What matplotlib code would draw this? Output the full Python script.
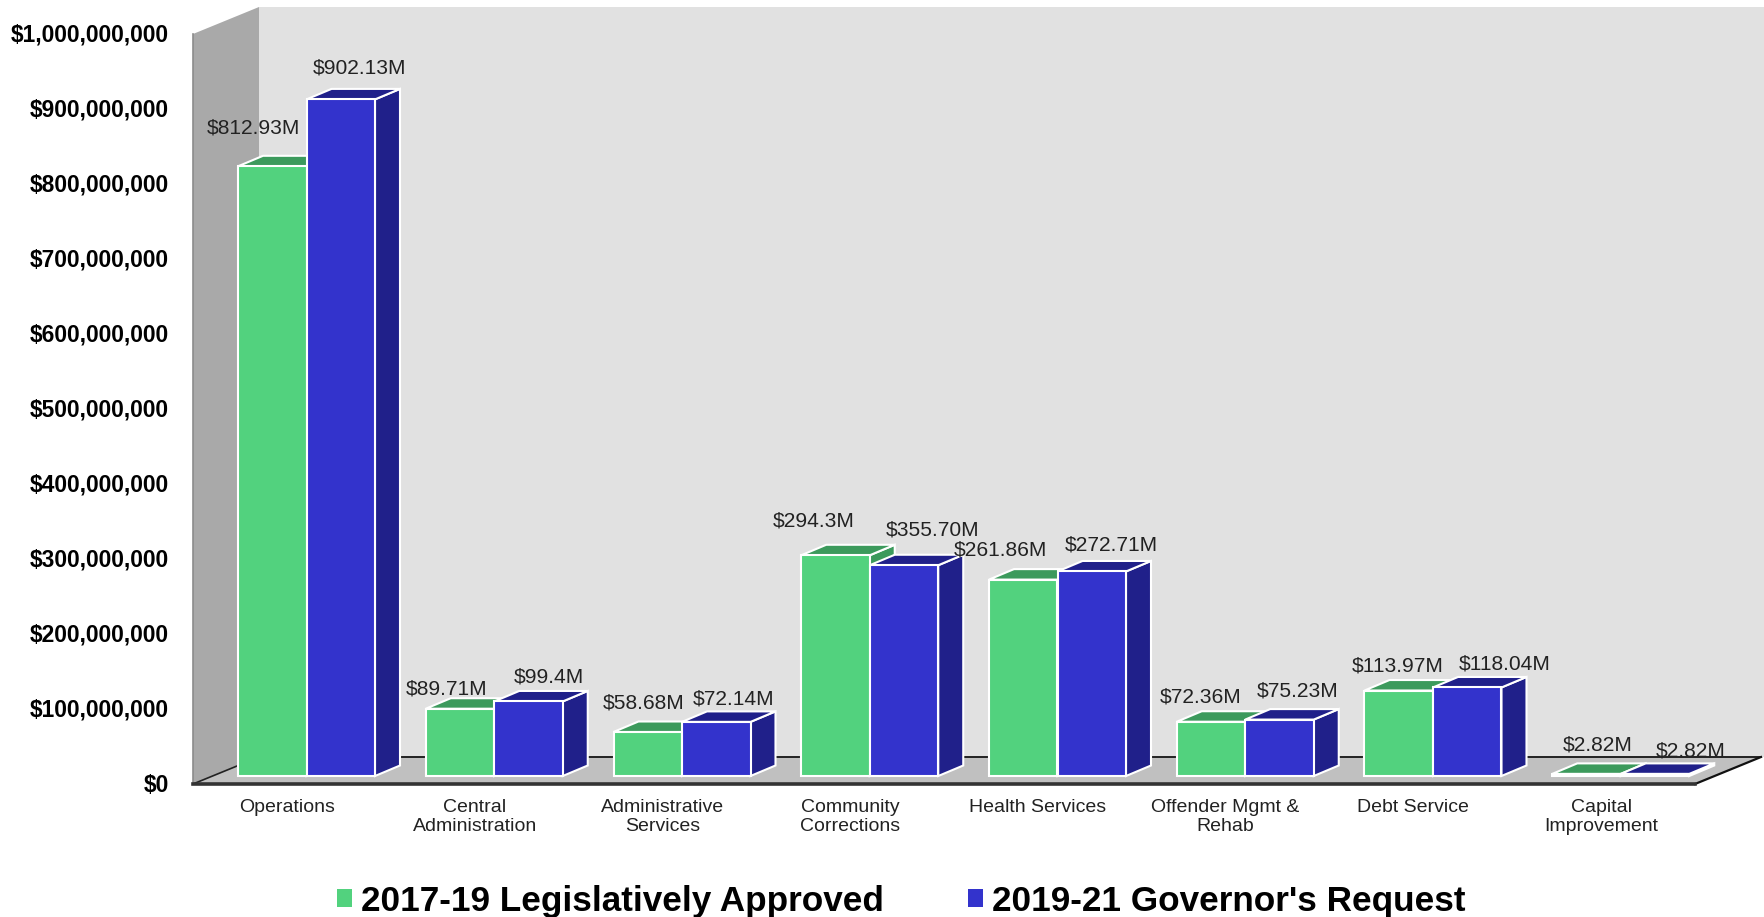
import matplotlib
matplotlib.use('Agg')
import matplotlib.pyplot as plt
from matplotlib.patches import Patch
from matplotlib.transforms import ScaledTranslation

plt.rcParams['font.family'] = ['Liberation Sans', 'DejaVu Sans']

categories = ['Operations', 'Central\nAdministration', 'Administrative\nServices',
              'Community\nCorrections', 'Health Services', 'Offender Mgmt &\nRehab',
              'Debt Service', 'Capital\nImprovement']
series_names = ['2017-19 Legislatively Approved', "2019-21 Governor's Request"]

# bar heights in $M as drawn (the 355.70 bar is drawn shorter than its label says)
approved = [812.93, 89.71, 58.68, 294.3, 261.86, 72.36, 113.97, 2.82]
request = [902.13, 99.4, 72.14, 281.0, 272.71, 75.23, 118.04, 2.82]
approved_labels = ['$812.93M', '$89.71M', '$58.68M', '$294.3M', '$261.86M', '$72.36M', '$113.97M', '$2.82M']
request_labels = ['$902.13M', '$99.4M', '$72.14M', '$355.70M', '$272.71M', '$75.23M', '$118.04M', '$2.82M']

y_ticks = [0, 100, 200, 300, 400, 500, 600, 700, 800, 900, 1000]
y_tick_labels = ['$0', '$100,000,000', '$200,000,000', '$300,000,000', '$400,000,000', '$500,000,000',
                 '$600,000,000', '$700,000,000', '$800,000,000', '$900,000,000', '$1,000,000,000']

# label offsets from the bar's top centre, in pixels
approved_off = [(-19, 38), (-13, 20), (-4, 29), (-22, 34), (-23, 30), (-10, 25), (-1, 25), (11, 29)]
request_off = [(19, 31), (20, 24), (17, 23), (29, 35), (20, 26), (18, 29), (37, 23), (36, 23)]

W, H = 1765, 917
PX_X = 1 / 187.75  # one pixel in category units
PX_Y = 1 / 0.75    # one pixel in $M

fig = plt.figure(figsize=(W / 100, H / 100), dpi=100, facecolor='white')
ax = fig.add_axes([193 / W, (H - 784) / H, 1502 / W, 750 / H])
ax.set_xlim(0, 8)
ax.set_ylim(0, 1000)
for s in ax.spines.values():
    s.set_visible(False)
ax.patch.set_visible(False)

# 3d box
floor_dx = 66 * PX_X
floor_dy = 27 * PX_Y
ax.fill([floor_dx, 8 + floor_dx + 5 * PX_X, 8 + floor_dx + 5 * PX_X, floor_dx],
        [floor_dy, floor_dy, 1000 + floor_dy, 1000 + floor_dy], color='#e1e1e1', lw=0, clip_on=False, zorder=1)
ax.fill([0, floor_dx, floor_dx, 0], [0, floor_dy, 1000 + floor_dy, 1000], color='#a9a9a9', lw=0, clip_on=False, zorder=2)
ax.plot([0, 0], [0, 1000], color='#8c8c8c', lw=1.2, clip_on=False, zorder=2)
ax.fill([0, 8, 8 + floor_dx, floor_dx], [0, 0, floor_dy, floor_dy], color='#c0c0c0', lw=0, clip_on=False, zorder=2)
ax.plot([floor_dx, 8 + floor_dx], [floor_dy, floor_dy], color='#222222', lw=1.4, clip_on=False, zorder=3)
ax.plot([0, floor_dx], [0, floor_dy], color='#222222', lw=1.2, clip_on=False, zorder=3)
ax.plot([8, 8 + floor_dx], [0, floor_dy], color='#111111', lw=1.6, clip_on=False, zorder=3)
ax.plot([0, 8], [0, 0], color='#333333', lw=2.6, clip_on=False, zorder=3)

bar_w = 68.5 * PX_X
bar_dx = 25 * PX_X
bar_dy = 10.5 * PX_Y
base = 8 * PX_Y
start = 45 * PX_X
edge = 'white'
lw = 1.5
z = 4


def draw_bar(x, v, front, top, side, z):
    ax.fill([x + bar_w, x + bar_w + bar_dx, x + bar_w + bar_dx, x + bar_w],
            [base, base + bar_dy, base + v + bar_dy, base + v],
            facecolor=side, edgecolor=edge, lw=lw, clip_on=False, zorder=z)
    ax.fill([x, x + bar_dx, x + bar_w + bar_dx, x + bar_w],
            [base + v, base + v + bar_dy, base + v + bar_dy, base + v],
            facecolor=top, edgecolor=edge, lw=lw, clip_on=False, zorder=z)
    ax.bar(x, v, width=bar_w, bottom=base, align='edge', facecolor=front, edgecolor=edge, lw=lw,
           clip_on=False, zorder=z + 0.5)


for i in range(len(categories)):
    x0 = i + start
    draw_bar(x0, approved[i], '#52d27e', '#3c9a5c', '#3c9a5c', z)
    draw_bar(x0 + bar_w, request[i], '#3333cc', '#20208a', '#20208a', z + 1)
    z += 2
    ax.annotate(approved_labels[i], (x0 + bar_w / 2, base + approved[i]), xytext=approved_off[i],
                textcoords='offset pixels', ha='center', va='center', fontsize=15.1, color='#222222',
                zorder=50, annotation_clip=False)
    ax.annotate(request_labels[i], (x0 + bar_w * 1.5, base + request[i]), xytext=request_off[i],
                textcoords='offset pixels', ha='center', va='center', fontsize=15.1, color='#222222',
                zorder=50, annotation_clip=False)

ax.set_yticks(y_ticks)
ax.set_yticklabels(y_tick_labels, fontsize=16.4, fontweight='bold', color='black')
ax.set_xticks([i + 0.5 for i in range(len(categories))])
ax.set_xticklabels(categories, fontsize=14, color='#222222', linespacing=1.15, va='top')
ax.tick_params(axis='y', length=0, pad=17.5)
ax.tick_params(axis='x', length=0, pad=11)

# tick labels sit a little higher than the tick position
up = ScaledTranslation(0, 1.0 / 72, fig.dpi_scale_trans)
for t in ax.get_yticklabels():
    t.set_transform(t.get_transform() + up)

handles = [Patch(facecolor='#52d27e', label=series_names[0]), Patch(facecolor='#3333cc', label=series_names[1])]
leg = fig.legend(handles=handles, loc='center', bbox_to_anchor=(901 / W, (H - 901) / H), ncols=2, frameon=False,
                 prop={'size': 25.3, 'weight': 'bold'}, handlelength=0.43, handleheight=0.43,
                 handletextpad=0.26, columnspacing=2.38, borderpad=0, borderaxespad=0)

fig.savefig('out.png', dpi=100)
